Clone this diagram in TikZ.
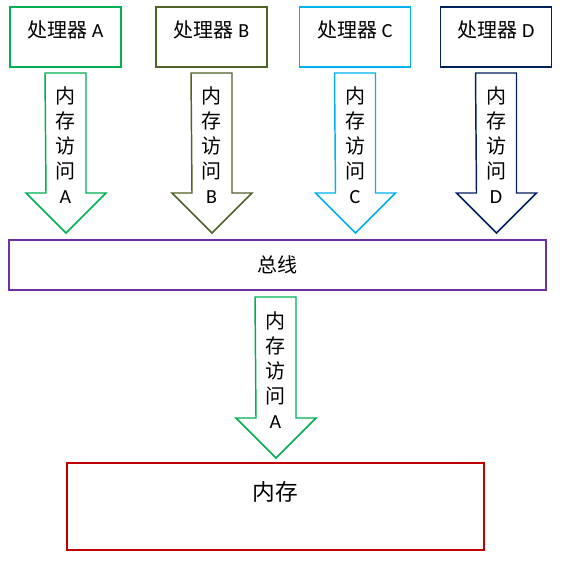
\documentclass[tikz,border=0pt]{standalone}
\usepackage{fontspec}
\setmainfont{Carlito}
\newfontfamily\cjk{Noto Sans CJK SC}
\usetikzlibrary{positioning}

\definecolor{cpuA}{HTML}{00B050}
\definecolor{cpuB}{HTML}{4F6228}
\definecolor{cpuC}{HTML}{00B0F0}
\definecolor{cpuD}{HTML}{002060}
\definecolor{busc}{HTML}{7030A0}
\definecolor{memc}{HTML}{C00000}

\tikzset{
  cpubox/.style={draw,line width=1.1pt,inner sep=0pt,minimum width=83pt,minimum height=45pt},
  blockarrow/.style={line width=1.1pt,fill=white},
  acctext/.style={align=center,inner sep=0pt,font=\fontsize{15}{18.75}\selectfont},
}

\begin{document}
\begin{tikzpicture}[x=0.75pt,y=-0.75pt]
  \useasboundingbox (0,0) rectangle (564,570);
  \foreach \x/\n/\c in {65.5/A/cpuA,211.5/B/cpuB,355/C/cpuC,496/D/cpuD}{
    \node[cpubox,draw=\c] (cpu\n) at (\x,37) {};
    \node[font=\fontsize{15}{16}\selectfont] (cpulabel\n) at (\x,30) {{\cjk 处理器} \n};
    \draw[blockarrow,draw=\c] (\x,73) ++(-20.5,0) -- ++(41,0) -- ++(0,120) -- ++(20,0)
      -- ++(-40,40) -- ++(-40,-40) -- ++(20,0) -- cycle;
    \node[acctext] (acc\n) at (\x,145) {\cjk 内\\\cjk 存\\\cjk 访\\\cjk 问\\\n};
  }
  \node[draw=busc,line width=1.1pt,minimum width=402.75pt,minimum height=37.5pt] (bus) at (277.5,265)
    {\fontsize{15}{16}\selectfont\cjk 总线};
  \draw[blockarrow,draw=cpuA] (275.5,297) ++(-20.5,0) -- ++(41,0) -- ++(0,121) -- ++(20,0)
    -- ++(-40,40) -- ++(-40,-40) -- ++(20,0) -- cycle;
  \node[acctext] (accmem) at (275.5,370) {\cjk 内\\\cjk 存\\\cjk 访\\\cjk 问\\A};
  \node[draw=memc,line width=1.1pt,minimum width=312.75pt,minimum height=65.25pt] (mem) at (275.5,506.5) {};
  \node[font=\fontsize{17}{20}\selectfont] (memlabel) at (275.5,492) {\cjk 内存};
\end{tikzpicture}
\end{document}
